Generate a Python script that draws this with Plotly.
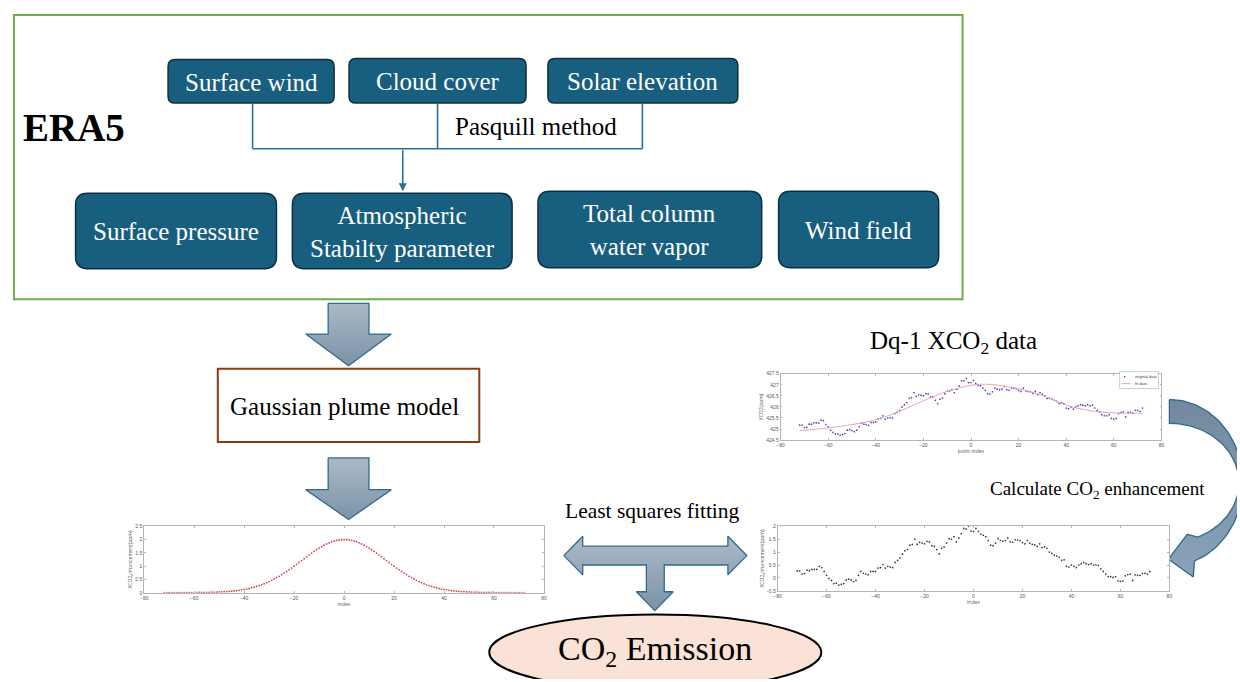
import numpy as np
import plotly.graph_objects as go

W, H = 1240, 682

# ---------------- data ----------------
idx = list(range(-72, 73))

gauss_values = [
    0.00, 0.00, 0.00, 0.00, 0.00, 0.00, 0.00, 0.00, 0.00, 0.00, 0.00, 0.00,
    0.00, 0.01, 0.01, 0.01, 0.01, 0.01, 0.01, 0.02, 0.02, 0.02,
    0.03, 0.03, 0.04, 0.04, 0.05, 0.06, 0.07, 0.08, 0.09, 0.11,
    0.13, 0.14, 0.16, 0.19, 0.21, 0.24, 0.27, 0.30, 0.34, 0.38,
    0.42, 0.47, 0.52, 0.57, 0.62, 0.68, 0.74, 0.80, 0.87, 0.93,
    1.00, 1.07, 1.14, 1.21, 1.28, 1.36, 1.42, 1.49, 1.56, 1.62,
    1.68, 1.74, 1.79, 1.84, 1.88, 1.92, 1.95, 1.97, 1.99, 2.00,
    2.00,
    2.00, 1.99, 1.97, 1.95, 1.92, 1.88, 1.84, 1.79, 1.74, 1.68,
    1.62, 1.56, 1.49, 1.42, 1.36, 1.28, 1.21, 1.14, 1.07, 1.00,
    0.93, 0.87, 0.80, 0.74, 0.68, 0.62, 0.57, 0.52, 0.47, 0.42,
    0.38, 0.34, 0.30, 0.27, 0.24, 0.21, 0.19, 0.16, 0.14, 0.13,
    0.11, 0.09, 0.08, 0.07, 0.06, 0.05, 0.04, 0.04, 0.03, 0.03,
    0.02, 0.02, 0.02, 0.01, 0.01, 0.01, 0.01, 0.01, 0.01, 0.00,
    0.00, 0.00, 0.00, 0.00, 0.00, 0.00, 0.00, 0.00, 0.00, 0.00, 0.00, 0.00,
]

xco2_original = [
    425.18, 425.18, 425.07, 425.08, 425.22, 425.22, 425.28, 425.28, 425.27, 425.40,
    425.38, 425.20, 425.10, 424.95, 424.85, 424.78, 424.78, 424.72, 424.75, 424.80,
    424.95, 424.97, 424.93, 424.88, 424.95, 425.10, 425.27, 425.22, 425.20, 425.17,
    425.30, 425.30, 425.32, 425.45, 425.48, 425.60, 425.45, 425.50, 425.52, 425.50,
    425.70, 425.75, 425.85, 426.00, 426.10, 426.20, 426.40, 426.42, 426.65, 426.48,
    426.55, 426.53, 426.50, 426.60, 426.58, 426.45, 426.45, 426.30, 426.15, 426.35,
    426.40, 426.60, 426.72, 426.72, 426.78, 426.65, 426.80, 426.95, 427.18, 427.18,
    427.28, 427.10, 427.10, 427.20, 427.05, 426.98, 426.95, 426.85, 426.75, 426.60,
    426.58, 426.68, 426.85, 426.80, 426.78, 426.80, 426.92, 426.78, 426.75, 426.85,
    426.85, 426.82, 426.75, 426.70, 426.85, 426.72, 426.70, 426.68, 426.62, 426.70,
    426.55, 426.65, 426.58, 426.50, 426.38, 426.40, 426.35, 426.30, 426.25, 426.15,
    426.20, 426.15, 425.95, 425.92, 426.00, 425.90, 426.00, 426.05, 426.10, 426.08,
    426.05, 426.10, 426.05, 426.08, 425.95, 425.85, 425.78, 425.65, 425.60, 425.60,
    425.65, 425.48, 425.45, 425.48, 425.70, 425.75, 425.78, 425.55, 425.75, 425.75,
    425.72, 425.85, 425.85, 425.80, 425.95,
]

fit_index = [-72, -60, -50, -40, -30, -20, -10, 0, 8, 15, 20, 30, 40, 50, 60, 72]
fit_values = [424.93, 425.05, 425.20, 425.42, 425.80, 426.28, 426.70, 426.98,
              427.02, 426.92, 426.82, 426.52, 426.08, 425.83, 425.73, 425.72]

enhancement = [
    0.27, 0.27, 0.15, 0.17, 0.30, 0.28, 0.33, 0.33, 0.33, 0.45,
    0.40, 0.25, 0.10, -0.02, -0.10, -0.22, -0.20, -0.28, -0.25, -0.22,
    -0.08, -0.05, -0.08, -0.15, -0.10, 0.10, 0.25, 0.18, 0.15, 0.12,
    0.25, 0.25, 0.25, 0.38, 0.40, 0.52, 0.38, 0.45, 0.42, 0.40,
    0.60, 0.68, 0.78, 0.92, 1.05, 1.10, 1.27, 1.30, 1.50, 1.30,
    1.38, 1.35, 1.32, 1.42, 1.40, 1.25, 1.22, 1.10, 0.93, 1.15,
    1.20, 1.35, 1.52, 1.50, 1.60, 1.40, 1.55, 1.72, 1.92, 1.90,
    2.00, 1.82, 1.80, 1.92, 1.80, 1.70, 1.65, 1.60, 1.45, 1.27,
    1.25, 1.35, 1.52, 1.45, 1.42, 1.45, 1.55, 1.40, 1.38, 1.48,
    1.47, 1.45, 1.37, 1.32, 1.45, 1.35, 1.30, 1.28, 1.22, 1.32,
    1.18, 1.20, 1.15, 1.00, 0.95, 0.88, 0.85, 0.80, 0.68, 0.70,
    0.45, 0.42, 0.50, 0.45, 0.40, 0.50, 0.55, 0.60, 0.55, 0.52,
    0.55, 0.50, 0.50, 0.48, 0.35, 0.25, 0.15, 0.05, 0.05, 0.02,
    0.05, -0.12, -0.13, -0.12, 0.08, 0.13, 0.15, -0.10, 0.12, 0.10,
    0.10, 0.17, 0.18, 0.15, 0.25,
]

top_boxes = ["Surface wind", "Cloud cover", "Solar elevation"]
bottom_boxes = ["Surface pressure", "Atmospheric<br>Stabilty parameter",
                "Total column<br>water vapor", "Wind field"]
legend_labels = ["original data", "fit data"]

# ---------------- styles ----------------
SERIF = "Liberation Serif"
BOX_FILL = "#185e7f"
BOX_LINE = "#0e2f41"
CONN = "#2d6f95"
ARROW_LINE = "#2f6a8c"
ARROW_LIGHT = "#a9b7c5"
ARROW_DARK = "#7790a6"

fig = go.Figure()
shapes = []
annotations = []


def rrect(x0, y0, x1, y1, r):
    return (f"M{x0+r},{y0} L{x1-r},{y0} Q{x1},{y0} {x1},{y0+r} "
            f"L{x1},{y1-r} Q{x1},{y1} {x1-r},{y1} L{x0+r},{y1} "
            f"Q{x0},{y1} {x0},{y1-r} L{x0},{y0+r} Q{x0},{y0} {x0+r},{y0} Z")


def label(x, y, text, size, color="black", bold=False, xanchor="center", family=SERIF):
    annotations.append(dict(
        x=x, y=y, xref="x", yref="y", text=(f"<b>{text}</b>" if bold else text),
        showarrow=False, xanchor=xanchor, yanchor="middle",
        font=dict(family=family, size=size, color=color)))


# green frame
shapes.append(dict(type="rect", xref="x", yref="y", x0=10, y0=12, x1=964, y1=299,
                   line=dict(color="#6cb045", width=2), fillcolor="rgba(0,0,0,0)"))
label(70, 126, "ERA5", 39, bold=True)

# top boxes
top_geom = [(165, 57, 332, 101), (347, 56, 525, 101), (547, 56, 738, 101)]
for (x0, y0, x1, y1), t in zip(top_geom, top_boxes):
    shapes.append(dict(type="path", xref="x", yref="y", path=rrect(x0, y0, x1, y1, 7),
                       fillcolor=BOX_FILL, line=dict(color=BOX_LINE, width=1.5)))
    label((x0 + x1) / 2, (y0 + y1) / 2 + 1, t, 25, color="white")

# bottom boxes
bot_geom = [(72, 192, 274, 268), (290, 192, 511, 268), (537, 190, 762, 267), (779, 190, 940, 267)]
for (x0, y0, x1, y1), t in zip(bot_geom, bottom_boxes):
    shapes.append(dict(type="path", xref="x", yref="y", path=rrect(x0, y0, x1, y1, 12),
                       fillcolor=BOX_FILL, line=dict(color=BOX_LINE, width=1.5)))
    label((x0 + x1) / 2, (y0 + y1) / 2 + 1, t, 25, color="white")

# connectors
for (xa, ya, xb, yb) in [(250, 101, 250, 147), (436, 101, 436, 147), (642, 101, 642, 147),
                         (250, 147, 642, 147)]:
    shapes.append(dict(type="line", xref="x", yref="y", x0=xa, y0=ya, x1=xb, y1=yb,
                       line=dict(color=CONN, width=1.6)))
annotations.append(dict(x=401, y=190, ax=401, ay=147, xref="x", yref="y", axref="x", ayref="y",
                        text="", showarrow=True, arrowhead=2, arrowsize=1, arrowwidth=1.6,
                        arrowcolor=CONN))
label(535, 125, "Pasquill method", 25)

# Gaussian plume model box
shapes.append(dict(type="rect", xref="x", yref="y", x0=215, y0=369, x1=478, y1=443,
                   line=dict(color="#8a3d12", width=2), fillcolor="white"))
label(342, 407, "Gaussian plume model", 25)


def block_poly(xs, ys, top, bottom, light=ARROW_LIGHT, dark=ARROW_DARK):
    fig.add_trace(go.Scatter(
        x=xs + [xs[0]], y=ys + [ys[0]], mode="lines", fill="toself",
        line=dict(color=ARROW_LINE, width=1.3),
        fillgradient=dict(type="vertical", start=top, stop=bottom,
                          colorscale=[[0, light], [1, dark]]),
        hoverinfo="skip", showlegend=False, xaxis="x", yaxis="y"))


def down_arrow(cx, y0, yh, yt, sw=20.5, hw=43):
    xs = [cx - sw, cx + sw, cx + sw, cx + hw, cx, cx - hw, cx - sw]
    ys = [y0, y0, yh, yh, yt, yh, yh]
    block_poly(xs, ys, y0, yt)


down_arrow(346.5, 303, 334, 366)
down_arrow(346.5, 459, 491, 521)

# T-shaped double arrow
tx = [563, 582, 582, 728, 728, 747, 728, 728, 664, 664, 673, 654.5, 636, 646, 646, 582, 582]
ty = [557.5, 538, 548, 548, 538, 557.5, 577, 567, 567, 594, 594, 613, 594, 594, 567, 567, 577]
block_poly(tx, ty, 538, 613)
label(652, 513, "Least squares fitting", 21.5)

# curved arrow on the right
cxe, cye = 1172, 484
th_o = np.linspace(-np.pi / 2, np.deg2rad(70), 60)
th_i = np.linspace(np.deg2rad(66), -np.pi / 2, 60)
ox = list(cxe + 74 * np.cos(th_o)); oy = list(cye + 84 * np.sin(th_o))
ix = list(cxe + 70 * np.cos(th_i)); iy = list(cye + 60 * np.sin(th_i))
cx_pts = ox + [1196, 1171, 1190] + ix
cy_pts = oy + [579, 561, 536] + iy
block_poly(cx_pts, cy_pts, 400, 580, light="#74899d", dark="#8aa3ba")
label(1100, 491, "Calculate CO<sub>2</sub> enhancement", 19)
label(955, 343, "Dq-1 XCO<sub>2</sub> data", 25)

# CO2 emission ellipse
shapes.append(dict(type="circle", xref="x", yref="y", x0=488, y0=617, x1=822, y1=693,
                   fillcolor="#fbe2d6", line=dict(color="black", width=2)))
label(655, 654, "CO<sub>2</sub> Emission", 34)

# ---------------- mini charts ----------------
fig.add_trace(go.Scatter(x=idx, y=gauss_values, mode="markers",
                         marker=dict(size=1.8, color="#d24545"), showlegend=False,
                         xaxis="x2", yaxis="y2"))
fig.add_trace(go.Scatter(x=idx, y=xco2_original, mode="markers", name=legend_labels[0],
                         marker=dict(size=1.7, color="#4646b0"), showlegend=False,
                         xaxis="x3", yaxis="y3"))
fig.add_trace(go.Scatter(x=fit_index, y=fit_values, mode="lines", name=legend_labels[1],
                         line=dict(color="#e6a6b4", width=1, shape="spline"), showlegend=False,
                         xaxis="x3", yaxis="y3"))
fig.add_trace(go.Scatter(x=idx, y=enhancement, mode="markers",
                         marker=dict(size=1.7, color="#333333"), showlegend=False,
                         xaxis="x4", yaxis="y4"))

# small legend box of the top-right chart
shapes.append(dict(type="rect", xref="x", yref="y", x0=1122, y0=372, x1=1161, y1=389,
                   line=dict(color="#aaaaaa", width=0.6), fillcolor="white"))
shapes.append(dict(type="circle", xref="x", yref="y", x0=1126.2, y0=376.2, x1=1127.8, y1=377.8,
                   line=dict(width=0), fillcolor="#4646b0"))
shapes.append(dict(type="line", xref="x", yref="y", x0=1124, y0=384, x1=1133, y1=384,
                   line=dict(color="#e6a6b4", width=1)))
label(1135, 377, legend_labels[0], 4, color="#444", xanchor="left", family="Liberation Sans")
label(1135, 384, legend_labels[1], 4, color="#444", xanchor="left", family="Liberation Sans")


def px_dom(a, b, total):
    return [a / total, b / total]


def ydom(top, bottom):
    return [1 - bottom / H, 1 - top / H]


tickfont = dict(size=5, color="#555555", family="Liberation Sans")
ax_common = dict(showline=True, linecolor="#b5b5b5", linewidth=0.8, mirror="ticks",
                 ticks="inside", ticklen=2, tickcolor="#b5b5b5", tickwidth=0.6,
                 showgrid=False, zeroline=False, tickfont=tickfont, fixedrange=True)
xticks = dict(tickmode="array", tickvals=[-80, -60, -40, -20, 0, 20, 40, 60, 80])
ttl = dict(size=5, color="#555")

layout_axes = dict(
    xaxis=dict(range=[0, W], domain=[0, 1], visible=False, fixedrange=True),
    yaxis=dict(range=[H, 0], domain=[0, 1], visible=False, fixedrange=True),
    xaxis2=dict(range=[-80, 80], domain=px_dom(141, 543, W), anchor="y2",
                title=dict(text="index", font=ttl, standoff=1), **xticks, **ax_common),
    yaxis2=dict(range=[0, 2.5], domain=ydom(528, 595), anchor="x2",
                tickvals=[0, 0.5, 1, 1.5, 2, 2.5], ticktext=["0", "0.5", "1", "1.5", "2", "2.5"],
                title=dict(text="XCO2<sub>e</sub>nhancement(ppm)", font=ttl, standoff=2),
                **ax_common),
    xaxis3=dict(range=[-80, 80], domain=px_dom(781, 1164, W), anchor="y3",
                title=dict(text="point index", font=ttl, standoff=1), **xticks, **ax_common),
    yaxis3=dict(range=[424.5, 427.5], domain=ydom(374, 441), anchor="x3",
                tickvals=[424.5, 425, 425.5, 426, 426.5, 427, 427.5],
                ticktext=["424.5", "425", "425.5", "426", "426.5", "427", "427.5"],
                title=dict(text="XCO2(ppm)", font=ttl, standoff=2), **ax_common),
    xaxis4=dict(range=[-80, 80], domain=px_dom(778, 1172, W), anchor="y4",
                title=dict(text="index", font=ttl, standoff=1), **xticks, **ax_common),
    yaxis4=dict(range=[-0.5, 2], domain=ydom(528, 593), anchor="x4",
                tickvals=[-0.5, 0, 0.5, 1, 1.5, 2], ticktext=["-0.5", "0", "0.5", "1", "1.5", "2"],
                title=dict(text="XCO2<sub>e</sub>nhancement(ppm)", font=ttl, standoff=2),
                **ax_common),
)

fig.update_layout(
    width=W, height=H, margin=dict(l=0, r=0, t=0, b=0),
    paper_bgcolor="white", plot_bgcolor="white",
    shapes=shapes, annotations=annotations,
    showlegend=False,
    **layout_axes,
)

fig.write_html("out.html")
